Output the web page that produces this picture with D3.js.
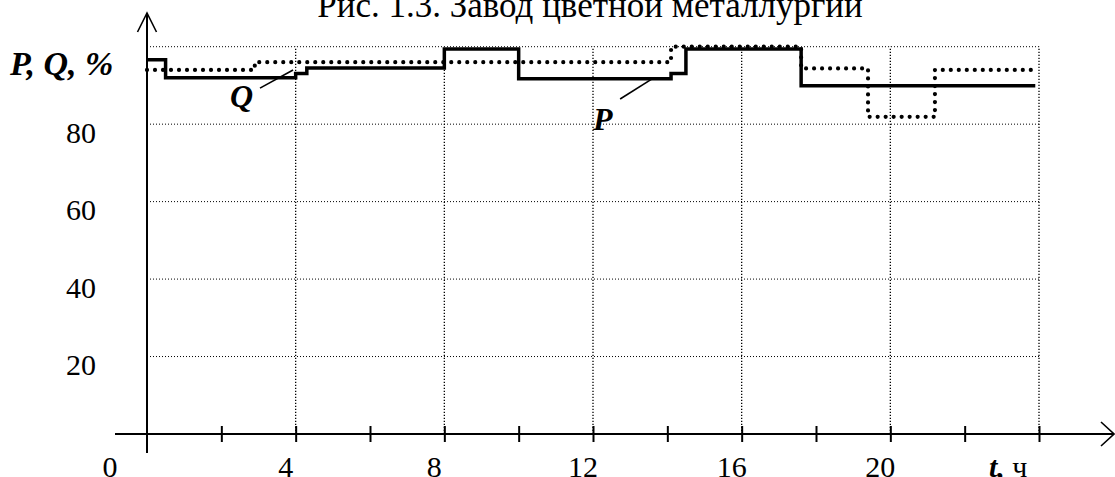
<!DOCTYPE html>
<html>
<head>
<meta charset="utf-8">
<script src="https://cdn.jsdelivr.net/npm/d3@7/dist/d3.min.js"></script>
<style>
  html, body { margin: 0; padding: 0; background: #fff; }
  svg { display: block; }
  text { font-family: "Liberation Serif", "Times New Roman", serif; fill: #000; }
</style>
</head>
<body>
<svg id="chart" width="1115" height="477"></svg>
<script>
// ---- data ----
const title = "Рис. 1.3. Завод цветной металлургии";
const yLabel = "P, Q, %";
// Active power P (solid, step)
const pHours  = [0, 0.5, 4, 4.3, 8, 10, 14.1, 14.5, 17.6, 23.9];
const pValues = [96.6, 92.0, 93.1, 94.5, 99.4, 91.7, 93.1, 99.4, 89.9, 89.9];
// Reactive power Q (dotted, step)
const qHours  = [0, 2.9, 14.1, 17.6, 19.4, 21.2, 23.8];
const qValues = [94.0, 96.0, 100, 94.4, 81.9, 94.0, 94.0];
// axes
const xGridHours = [4, 8, 12, 16, 20, 24];
const xTickHours = [2, 4, 6, 8, 10, 12, 14, 16, 18, 20, 22, 24];
const xTickLabels = ["4", "8", "12", "16", "20"];
const xTickLabelHours = [4, 8, 12, 16, 20];
const yGridValues = [20, 40, 60, 80, 100];
const yTickValues = [20, 40, 60, 80];
// annotation anchors (hours, percent)
const qLabel = { t: 2.23, v: 84.4, text: "Q", lead: [[3.04, 89.3], [3.93, 94.0]] };
const pLabel = { t: 12.0, v: 78.5, text: "P", lead: [[12.73, 86.5], [13.59, 91.7]] };

// ---- scales ----
const svg = d3.select("#chart");
const x = d3.scaleLinear().domain([0, 24]).range([147, 1039]);
const y = d3.scaleLinear().domain([0, 100]).range([434, 46.7]);

// ---- grid ----
const grid = svg.append("g");
grid.selectAll("line.h").data(yGridValues).join("line")
  .attr("x1", x(0)).attr("x2", x(24))
  .attr("y1", d => y(d)).attr("y2", d => y(d))
  .attr("stroke", "#000").attr("stroke-width", 1).attr("stroke-dasharray", "1,2");
grid.selectAll("line.v").data(xGridHours).join("line")
  .attr("x1", d => x(d)).attr("x2", d => x(d))
  .attr("y1", y(0)).attr("y2", y(100))
  .attr("stroke", "#000").attr("stroke-width", 1.3).attr("stroke-dasharray", "1.2,1.8");

// ---- series ----
const line = d3.line().x(d => x(d[0])).y(d => y(d[1])).curve(d3.curveStepAfter);
const qData = qHours.map((t, i) => [t, qValues[i]]);
const pData = pHours.map((t, i) => [t, pValues[i]]);

svg.append("path").datum(qData).attr("d", line)
  .attr("fill", "none").attr("stroke", "#000").attr("stroke-width", 4.2)
  .attr("stroke-linecap", "round").attr("stroke-dasharray", "0,8");

svg.append("path").datum(pData).attr("d", line)
  .attr("fill", "none").attr("stroke", "#000").attr("stroke-width", 3.5)
  .attr("stroke-linejoin", "miter").attr("stroke-linecap", "butt");

// ---- axes ----
const axes = svg.append("g").attr("stroke", "#000").attr("stroke-width", 2).attr("fill", "none");
axes.append("line").attr("x1", 115).attr("x2", 1114).attr("y1", y(0)).attr("y2", y(0));
axes.append("path").attr("d", `M1101,${y(0) - 12} L1114,${y(0)} L1101,${y(0) + 12}`).attr("stroke-width", 1.6);
axes.append("line").attr("x1", x(0)).attr("x2", x(0)).attr("y1", 13).attr("y2", 453);
axes.append("path").attr("d", `M${x(0) - 9.5},32 L${x(0)},13 L${x(0) + 9.5},32`).attr("stroke-width", 1.6);

// x ticks crossing the axis
const tickDown = d3.axisBottom(x).tickValues(xTickHours).tickSize(8).tickFormat("");
const tickUp = d3.axisTop(x).tickValues(xTickHours).tickSize(8).tickFormat("");
[tickDown, tickUp].forEach(ax => {
  const g = svg.append("g").attr("transform", `translate(0,${y(0)})`).call(ax);
  g.select(".domain").remove();
  g.selectAll(".tick line").attr("stroke", "#000").attr("stroke-width", 2);
});

// y tick labels
const yAx = d3.axisLeft(y).tickValues(yTickValues).tickSize(0).tickPadding(51);
const yg = svg.append("g").attr("transform", `translate(${x(0)},0)`).call(yAx);
yg.select(".domain").remove();
yg.selectAll(".tick text")
  .attr("font-family", "'Liberation Serif', 'Times New Roman', serif")
  .attr("font-size", 30).attr("dy", "0.6em").attr("fill", "#000");

// x tick labels
svg.append("g").selectAll("text").data(xTickLabelHours).join("text")
  .attr("x", d => x(d) - 10).attr("y", 477)
  .attr("text-anchor", "middle").attr("font-size", 30)
  .text((d, i) => xTickLabels[i]);
svg.append("text").attr("x", x(0) - 37).attr("y", 477)
  .attr("text-anchor", "middle").attr("font-size", 30).text("0");

// axis titles
svg.append("text").attr("x", 10).attr("y", 75)
  .attr("font-size", 34).attr("font-weight", "bold").attr("font-style", "italic")
  .text(yLabel);
const tl = svg.append("text").attr("x", 989).attr("y", 477).attr("font-size", 30);
tl.append("tspan").attr("font-weight", "bold").attr("font-style", "italic").text("t,");
tl.append("tspan").text(" ч");

// title
svg.append("text").attr("x", 590).attr("y", 17).attr("text-anchor", "middle")
  .attr("font-size", 35).text(title);

// annotations
[qLabel, pLabel].forEach(a => {
  svg.append("text").attr("x", x(a.t)).attr("y", y(a.v))
    .attr("font-size", 32).attr("font-weight", "bold").attr("font-style", "italic")
    .text(a.text);
  svg.append("line")
    .attr("x1", x(a.lead[0][0])).attr("y1", y(a.lead[0][1]))
    .attr("x2", x(a.lead[1][0])).attr("y2", y(a.lead[1][1]))
    .attr("stroke", "#000").attr("stroke-width", 1.6);
});
</script>
</body>
</html>
